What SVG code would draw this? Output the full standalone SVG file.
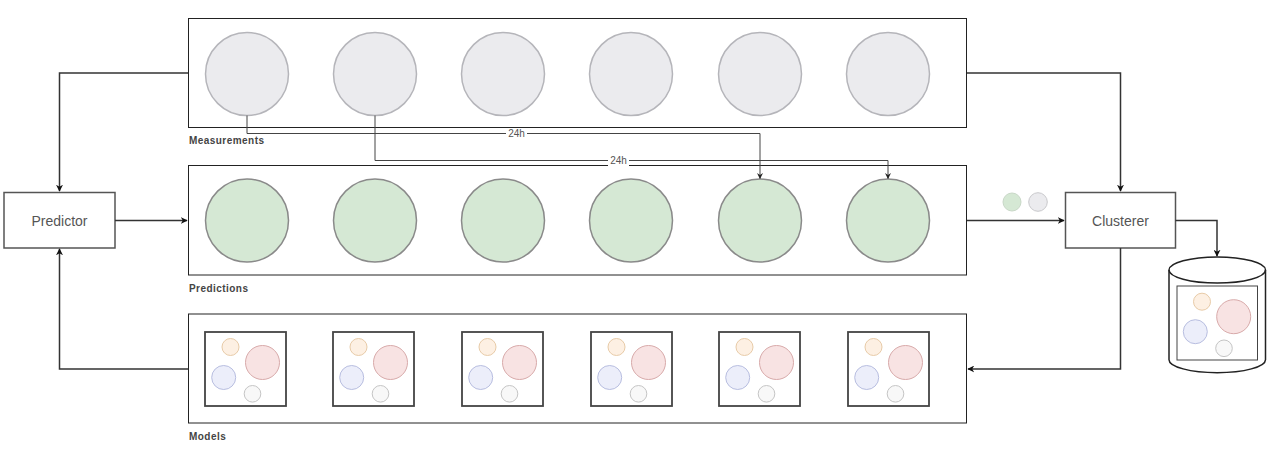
<svg xmlns="http://www.w3.org/2000/svg" xmlns:xlink="http://www.w3.org/1999/xlink" width="1270" height="454" viewBox="0 0 1270 454">
<style>
.bg{fill:#ffffff}
.lane{fill:#ffffff;stroke:#222;stroke-width:1}
.meas{fill:#ebebee;stroke:#b5b5ba;stroke-width:1.5}
.pred{fill:#d5e8d4;stroke:#8a8a8a;stroke-width:1.5}
.box{fill:#ffffff;stroke:#555;stroke-width:1.5}
.mbox{fill:#ffffff;stroke:#444;stroke-width:1.8}
.lbl{font-family:"Liberation Sans",Arial,sans-serif;font-size:10px;font-weight:bold;fill:#444;letter-spacing:0.45px}
.name{font-family:"Liberation Sans",Arial,sans-serif;font-size:14px;fill:#555;text-anchor:middle;dominant-baseline:central}
.edge{fill:none;stroke:#333;stroke-width:1.5}
.thin{fill:none;stroke:#444;stroke-width:1}
.elbl{font-family:"Liberation Sans",Arial,sans-serif;font-size:10px;fill:#555;text-anchor:middle;dominant-baseline:central}
.o{fill:#fdf0e3;stroke:#e8cba8;stroke-width:1}
.r{fill:#f8e3e3;stroke:#d8aaaa;stroke-width:1}
.b{fill:#eceefa;stroke:#b8bee0;stroke-width:1}
.w{fill:#f8f8f8;stroke:#c5c5c5;stroke-width:1}
</style>
<defs>
<marker id="arr" viewBox="0 0 10 10" refX="9" refY="5" markerWidth="7" markerHeight="7" markerUnits="userSpaceOnUse" orient="auto">
<path d="M0,0 L10,5 L0,10 L3,5 Z" fill="#111"/>
</marker>
<marker id="arrs" viewBox="0 0 10 10" refX="9" refY="5" markerWidth="6" markerHeight="6" markerUnits="userSpaceOnUse" orient="auto">
<path d="M0,0 L10,5 L0,10 L3,5 Z" fill="#222"/>
</marker>
<g id="model">
<rect class="mbox" x="0" y="0" width="81" height="74"/>
<circle class="o" cx="25.5" cy="15" r="8.5"/>
<circle class="r" cx="57.5" cy="30.5" r="17"/>
<circle class="b" cx="18.7" cy="45.5" r="12"/>
<circle class="w" cx="47.5" cy="61.8" r="8.3"/>
</g>
</defs>
<rect class="bg" x="0" y="0" width="1270" height="454"/>

<g id="measurements">
<rect class="lane" x="188.5" y="18.5" width="778" height="109"/>
<circle class="meas" cx="247" cy="74" r="41.5"/>
<circle class="meas" cx="375" cy="74" r="41.5"/>
<circle class="meas" cx="503" cy="74" r="41.5"/>
<circle class="meas" cx="631" cy="74" r="41.5"/>
<circle class="meas" cx="760" cy="74" r="41.5"/>
<circle class="meas" cx="888" cy="74" r="41.5"/>
<text class="lbl" x="189" y="143.5">Measurements</text>
</g>

<g id="predictions">
<rect class="lane" x="188.5" y="165.5" width="778" height="109.5"/>
<circle class="pred" cx="247" cy="220.5" r="41.5"/>
<circle class="pred" cx="375" cy="220.5" r="41.5"/>
<circle class="pred" cx="503" cy="220.5" r="41.5"/>
<circle class="pred" cx="631" cy="220.5" r="41.5"/>
<circle class="pred" cx="760" cy="220.5" r="41.5"/>
<circle class="pred" cx="888" cy="220.5" r="41.5"/>
<text class="lbl" x="189" y="291.5">Predictions</text>
</g>

<g id="models">
<rect class="lane" x="188.5" y="314" width="778" height="109"/>
<use xlink:href="#model" x="205" y="332"/>
<use xlink:href="#model" x="333" y="332"/>
<use xlink:href="#model" x="462" y="332"/>
<use xlink:href="#model" x="591" y="332"/>
<use xlink:href="#model" x="719" y="332"/>
<use xlink:href="#model" x="848" y="332"/>
<text class="lbl" x="189" y="439.5">Models</text>
</g>

<g id="predictor">
<rect class="box" x="4" y="192.5" width="111" height="55.5"/>
<text class="name" x="59.5" y="220.5">Predictor</text>
</g>

<g id="clusterer">
<rect class="box" x="1065.5" y="192.5" width="110" height="55.5"/>
<text class="name" x="1120.5" y="220.5">Clusterer</text>
</g>

<g id="sample-points">
<circle cx="1012" cy="202" r="9" fill="#d5e8d4" stroke="#c9d8c8" stroke-width="1"/>
<circle cx="1038" cy="202" r="9.3" fill="#ebebee" stroke="#c9c9cc" stroke-width="1"/>
</g>

<g id="store">
<path d="M1169,270 A48.25,13 0 0 1 1265.5,270 L1265.5,359.7 A48.25,13 0 0 1 1169,359.7 Z" fill="#ffffff" stroke="#222" stroke-width="1.5"/>
<path d="M1169,270 A48.25,13 0 0 0 1265.5,270" fill="none" stroke="#222" stroke-width="1.5"/>
<rect x="1177" y="286" width="80.5" height="74" fill="#ffffff" stroke="#444" stroke-width="1"/>
<circle class="o" cx="1202" cy="301.7" r="8.5"/>
<circle class="r" cx="1233.7" cy="316.7" r="17"/>
<circle class="b" cx="1195.3" cy="331.7" r="12"/>
<circle class="w" cx="1224" cy="348.3" r="8.3"/>
</g>

<g id="connectors">
<path class="edge" d="M188,73 H59.5 V191" marker-end="url(#arr)"/>
<path class="edge" d="M115,220.5 H187" marker-end="url(#arr)"/>
<path class="edge" d="M188,369 H59.5 V249" marker-end="url(#arr)"/>
<path class="edge" d="M967,73 H1120.5 V191" marker-end="url(#arr)"/>
<path class="edge" d="M967,220.5 H1064" marker-end="url(#arr)"/>
<path class="edge" d="M1120.5,248 V369 H968" marker-end="url(#arr)"/>
<path class="edge" d="M1175.5,220.5 H1217 V256" marker-end="url(#arr)"/>
<path class="thin" d="M247,115.5 V133.5 H760 V178.5" marker-end="url(#arrs)"/>
<path class="thin" d="M375,115.5 V160.5 H888 V178.5" stroke="#666" marker-end="url(#arrs)"/>
<rect x="506" y="128" width="21" height="11" fill="#ffffff"/>
<text class="elbl" x="516.5" y="133.5">24h</text>
<rect x="608" y="155" width="21" height="11" fill="#ffffff"/>
<text class="elbl" x="618.5" y="160.5">24h</text>
</g>
</svg>
